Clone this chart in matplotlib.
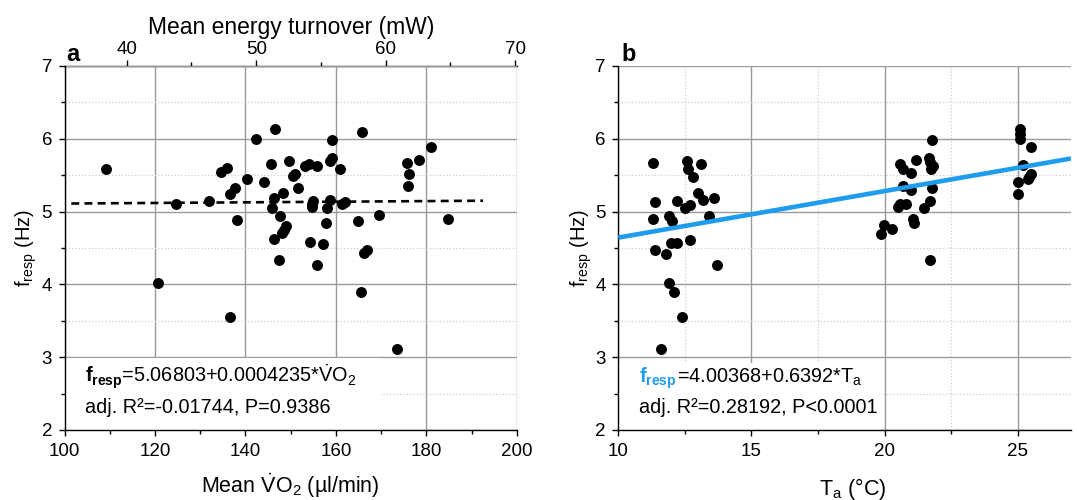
import matplotlib
matplotlib.use('Agg')
import matplotlib.pyplot as plt
from matplotlib.patches import Rectangle
import matplotlib.transforms as mtransforms
from matplotlib.ticker import MultipleLocator, FixedLocator

plt.rcParams['font.family'] = ['Liberation Sans', 'DejaVu Sans']
plt.rcParams['mathtext.fontset'] = 'custom'
plt.rcParams['mathtext.rm'] = 'Liberation Sans'
plt.rcParams['mathtext.it'] = 'Liberation Sans:italic'
plt.rcParams['mathtext.bf'] = 'Liberation Sans:bold'

# ---------------- data: panel a ----------------
vo2 = [109.2, 120.6, 124.6, 131.9, 134.6, 136.0, 136.6, 136.6, 137.7, 138.2,
       140.3, 142.3, 144.0, 145.7, 146.5, 146.3, 145.9, 146.2, 147.3, 147.7,
       148.3, 148.9, 148.6, 148.1, 149.7, 150.6, 151.0, 151.7, 153.1, 154.1,
       155.7, 154.3, 154.8, 155.0, 154.8, 155.7, 157.1, 157.7, 158.0, 158.6,
       158.7, 159.1, 159.1, 160.9, 161.4, 162.0, 164.8, 165.5, 165.7, 166.3,
       166.8, 169.5, 173.4, 175.8, 176.1, 176.0, 178.4, 180.9, 184.7]
fresp_a = [5.587, 4.018, 5.105, 5.147, 5.54, 5.605, 3.55, 5.24, 5.32, 4.89,
           5.45, 6.00, 5.40, 5.65, 6.128, 5.19, 5.055, 4.62, 4.334, 4.935,
           5.26, 4.80, 4.75, 4.70, 5.69, 5.49, 5.51, 5.33, 5.63, 5.65,
           5.63, 4.578, 5.11, 5.15, 5.07, 4.27, 4.56, 4.84, 5.05, 5.16,
           5.70, 5.74, 5.98, 5.58, 5.10, 5.13, 4.876, 3.90, 6.09, 4.436,
           4.467, 4.95, 3.115, 5.674, 5.518, 5.349, 5.706, 5.89, 4.894]
fit_a_intercept = 5.06803
fit_a_slope = 0.0004235
fit_a_x = [101.5, 192.5]

# ---------------- data: panel b ----------------
ta = [11.29, 11.39, 11.29, 11.39, 11.59, 11.79, 11.89, 11.90, 12.00, 11.98,
      12.10, 12.21, 12.19, 12.39, 12.50, 12.59, 12.60, 12.69, 12.69, 12.81,
      12.99, 13.09, 13.19, 13.39, 13.60, 13.69,
      21.77, 21.66, 21.72, 21.80, 21.75, 21.19, 20.59, 20.69, 20.99, 20.69,
      21.00, 21.79, 21.70, 21.47, 20.50, 20.59, 20.81, 21.06, 21.09, 19.97,
      20.29, 19.88, 21.69,
      25.09, 25.09, 25.09, 25.49, 25.19, 25.50, 25.41, 25.37, 25.01, 25.00]
fresp_b = [5.674, 5.13, 4.894, 4.467, 3.116, 4.417, 4.018, 4.935, 4.866, 4.574,
           3.894, 4.564, 5.14, 3.55, 5.05, 5.70, 5.59, 5.096, 4.615, 5.47,
           5.256, 5.655, 5.165, 4.945, 5.187, 4.26,
           5.98, 5.74, 5.68, 5.62, 5.59, 5.706, 5.65, 5.59, 5.536, 5.358,
           5.30, 5.325, 5.146, 5.05, 5.07, 5.10, 5.10, 4.894, 4.843, 4.81,
           4.757, 4.69, 4.34,
           6.13, 6.07, 6.00, 5.89, 5.637, 5.52, 5.476, 5.454, 5.40, 5.238]
fit_b_intercept = 4.00368
fit_b_slope = 0.06392
fit_b_x = [10, 27]

BLUE = '#1E9CF0'
FS = 13.5      # tick labels
LFS = 15.5     # axis labels
TFS = 14.3     # annotation text

fig = plt.figure(figsize=(10.77, 5.0), dpi=100)
axa = fig.add_axes([0.0599, 0.14, 0.4201, 0.728])
axb = fig.add_axes([0.5741, 0.14, 0.4203, 0.728])


def style(ax, lp):
    ax.set_axisbelow(True)
    ax.set_ylim(2, 7)
    ax.yaxis.set_major_locator(MultipleLocator(1))
    ax.yaxis.set_minor_locator(MultipleLocator(0.5))
    ax.spines['right'].set_visible(False)
    ax.spines['top'].set_visible(False)
    for s in ['left', 'bottom']:
        ax.spines[s].set_linewidth(1.0)
    ax.tick_params(which='major', direction='out', length=4, width=1,
                   labelsize=FS, pad=5)
    ax.tick_params(which='minor', direction='out', length=3, width=1)
    ax.grid(which='major', color='#9a9a9a', linewidth=1.0, linestyle='-')
    ax.set_ylabel(r'f$_{\mathrm{resp}}$ (Hz)', fontsize=14.5, labelpad=lp)


# ---------------- panel a ----------------
style(axa, 2)
axa.set_xlim(100, 200)
axa.xaxis.set_major_locator(MultipleLocator(20))
axa.xaxis.set_minor_locator(MultipleLocator(10))
axa.grid(which='minor', axis='y', color='#cfcfcf', linewidth=0.9, linestyle=':')
axa.scatter(vo2, fresp_a, s=62, color='black', zorder=3, linewidths=0)
fy = [fit_a_intercept + fit_a_slope * x for x in fit_a_x]
axa.plot(fit_a_x, fy, color='black', lw=1.9, ls=(0, (3, 2)), zorder=3)
axa.set_xlabel(r'Mean $\dot{\mathrm{V}}$O$_2$ (µl/min)', fontsize=LFS, labelpad=9)


def fwd(v):
    return (v - 113.75) / 2.862 + 40


def inv(m):
    return (m - 40) * 2.862 + 113.75


sec = axa.secondary_xaxis('top', functions=(fwd, inv))
sec.xaxis.set_major_locator(FixedLocator([40, 50, 60, 70]))
sec.xaxis.set_minor_locator(FixedLocator([45, 55, 65]))
sec.tick_params(which='major', direction='out', length=4, width=1, labelsize=FS, pad=2)
sec.tick_params(which='minor', direction='out', length=3, width=1)
sec.spines['top'].set_linewidth(1.0)
sec.set_xlabel('Mean energy turnover (mW)', fontsize=16.5, labelpad=5)

axa.add_patch(Rectangle((0.0, 0.0), 0.70, 0.198, transform=axa.transAxes,
                        facecolor='white', edgecolor='none', zorder=1))
axa.text(0.045, 0.129,
         r'$\mathbf{f}_{\mathbf{resp}}$=5.06803+0.0004235*$\dot{\mathrm{V}}$O$_2$',
         transform=axa.transAxes, fontsize=TFS, va='baseline', ha='left', zorder=4)
axa.text(0.045, 0.047, 'adj. R²=-0.01744, P=0.9386',
         transform=axa.transAxes, fontsize=TFS, va='baseline', ha='left', zorder=4)
fig.text(0.068, 0.878, 'a', fontsize=17, fontweight='bold', ha='center', va='baseline')

# ---------------- panel b ----------------
style(axb, 1)
axb.set_xlim(10, 27)
axb.xaxis.set_major_locator(FixedLocator([10, 15, 20, 25]))
axb.xaxis.set_minor_locator(FixedLocator([12.5, 17.5, 22.5]))
axb.grid(which='minor', color='#cfcfcf', linewidth=0.9, linestyle=':')
axb.scatter(ta, fresp_b, s=62, color='black', zorder=3, linewidths=0)
fyb = [fit_b_intercept + fit_b_slope * x for x in fit_b_x]
axb.plot(fit_b_x, fyb, color=BLUE, lw=3.3, zorder=3, solid_capstyle='butt')
axb.set_xlabel(r'T$_{\mathrm{a}}$ (°C)', fontsize=LFS)
axb.xaxis.set_label_coords(0.518, -0.125)
axb.xaxis.label.set_va('top')

axb.add_patch(Rectangle((0.0, 0.0), 0.58, 0.184, transform=axb.transAxes,
                        facecolor='white', edgecolor='none', zorder=1))
t1 = axb.text(0.046, 0.129, r'$\mathbf{f}_{\mathbf{resp}}$', color=BLUE,
              transform=axb.transAxes, fontsize=TFS, va='baseline', ha='left', zorder=4)
fig.canvas.draw()
r = fig.canvas.get_renderer()
w = t1.get_window_extent(r).width * 72.0 / fig.dpi
tr = mtransforms.offset_copy(axb.transAxes, fig=fig, x=w, y=0, units='points')
axb.text(0.046, 0.129, r'=4.00368+0.6392*T$_{\mathrm{a}}$', transform=tr,
         fontsize=TFS, va='baseline', ha='left', zorder=4)
axb.text(0.046, 0.047, 'adj. R²=0.28192, P<0.0001',
         transform=axb.transAxes, fontsize=TFS, va='baseline', ha='left', zorder=4)
fig.text(0.5835, 0.878, 'b', fontsize=17, fontweight='bold', ha='center', va='baseline')

fig.savefig('out.png', dpi=100)
